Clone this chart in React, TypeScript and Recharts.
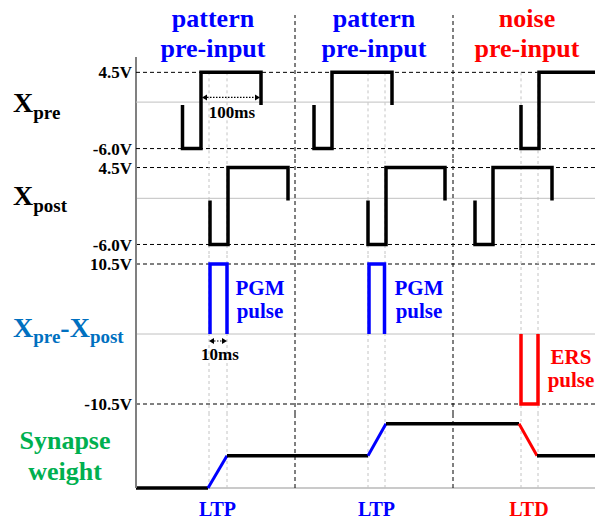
import { LineChart, Line, XAxis, YAxis, ReferenceLine } from 'recharts'

const W = 595
const AXIS_W = 136
const T_DOMAIN: [number, number] = [0, 459]

const SERIF = '"Liberation Serif", "Times New Roman", serif'
const BLUE = '#0000ff'
const RED = '#ff0000'
const STEEL = '#0070c0'
const GREEN = '#00b050'

// time axis: section boundaries and the coincidence-window edges
const SECTION_BOUNDS = [159, 317]
const WINDOW_EDGES = [73, 91, 232, 249, 385, 402]

type Pt = [number, number]

// pre-synaptic spikes (V)
const XPRE_WAVES: Pt[][] = [
  [[46.5, 0], [46.5, -6], [65, -6], [65, 4.5], [125, 4.5], [125, 0]],
  [[178, 0], [178, -6], [196, -6], [196, 4.5], [256, 4.5], [256, 0]],
  [[385, 0], [385, -6], [403, -6], [403, 4.5], [459, 4.5]],
]

// post-synaptic spikes (V)
const XPOST_WAVES: Pt[][] = [
  [[74, 0], [74, -6], [92, -6], [92, 4.5], [152, 4.5], [152, 0]],
  [[232, 0], [232, -6], [250, -6], [250, 4.5], [309, 4.5], [309, 0]],
  [[339, 0], [339, -6], [357, -6], [357, 4.5], [416, 4.5], [416, 0]],
]

// net voltage across the synapse (V)
const DIFF_PGM: Pt[][] = [
  [[74, 0], [74, 10.5], [91, 10.5], [91, 0]],
  [[233, 0], [233, 10.5], [248.5, 10.5], [248.5, 0]],
]
const DIFF_ERS: Pt[] = [[385, 0], [385, -10.5], [402, -10.5], [402, 0]]

// synapse weight (arbitrary levels)
const W_T = [0, 72, 91, 232, 250, 383, 401, 459]
const W_V = [0, 0, 1, 1, 2, 2, 1, 1]
const W_KIND = ['hold', 'LTP', 'hold', 'LTP', 'hold', 'LTD', 'hold']

const PRE_TICKS = [4.5, -6]
const POST_TICKS = [4.5, -6]
const DIFF_TICKS = [10.5, -10.5]

const OUTCOMES = ['LTP', 'LTP', 'LTD']
const OUTCOME_T = [81.5, 240.5, 393]

const toRows = (pts: Pt[]) => pts.map(([t, v]) => ({ t, v }))
const kindColor = (k: string) => (k === 'LTP' ? BLUE : k === 'LTD' ? RED : '#000')
const volt = (v: number) => `${v.toFixed(1)}V`

const margin = { top: 0, right: 0, bottom: 0, left: 0 }

const weightSegments = W_KIND.map((kind, i) => ({
  kind,
  rows: [
    { t: W_T[i], v: W_V[i] },
    { t: W_T[i + 1], v: W_V[i + 1] },
  ],
}))

// dimension marker with outward arrowheads
const DimArrow = (props: any) => {
  const { x1, y1, x2 } = props
  const a = 5
  return (
    <g>
      <line x1={x1 + a} y1={y1} x2={x2 - a} y2={y1} stroke="#000" strokeWidth={1.2} strokeDasharray="1.5 1.5" />
      <polygon points={`${x1},${y1} ${x1 + a},${y1 - 3} ${x1 + a},${y1 + 3}`} fill="#000" />
      <polygon points={`${x2},${y1} ${x2 - a},${y1 - 3} ${x2 - a},${y1 + 3}`} fill="#000" />
    </g>
  )
}

const VoltTick = ({ y, payload }: any) => (
  <text x={AXIS_W - 4} y={y} dy="0.36em" textAnchor="end" fill="#000" fontSize={17} fontWeight={700} fontFamily={SERIF}>
    {volt(payload.value)}
  </text>
)

const OutcomeTick = ({ x, y, index }: any) => (
  <text
    x={x}
    y={y + 28}
    textAnchor="middle"
    fill={kindColor(OUTCOMES[index])}
    fontSize={20}
    fontWeight={700}
    fontFamily={SERIF}
  >
    {OUTCOMES[index]}
  </text>
)

const dashed = { stroke: '#000', strokeWidth: 1, strokeDasharray: '4 3' }
const guide = { stroke: '#c4c4c4', strokeWidth: 1, strokeDasharray: '3 3' }
const zero = { stroke: '#c0c0c0', strokeWidth: 1 }

export default function App() {
  const sectionLines = SECTION_BOUNDS.map((t) => <ReferenceLine key={`s${t}`} x={t} {...dashed} />)
  const windowLines = WINDOW_EDGES.map((t) => <ReferenceLine key={`w${t}`} x={t} {...guide} />)

  return (
    <div style={{ position: 'absolute', left: 0, top: 0, width: W, height: 523, background: '#fff' }}>
      {/* Xpre panel (extends up so the section dividers reach the titles) */}
      <div style={{ position: 'absolute', left: 0, top: 15 }}>
        <LineChart width={W} height={143} margin={margin}>
          <XAxis type="number" dataKey="t" domain={T_DOMAIN} hide />
          <YAxis
            type="number"
            domain={[-7.3, 12.4]}
            ticks={PRE_TICKS}
            interval={0}
            width={AXIS_W}
            axisLine={false}
            tickLine={false}
            tick={<VoltTick />}
          />
          <ReferenceLine segment={[{ x: 0, y: 6.6 }, { x: 0, y: -7.3 }]} stroke="#808080" strokeWidth={2} />
          <ReferenceLine y={4.5} {...dashed} />
          <ReferenceLine y={-6} {...dashed} />
          <ReferenceLine y={0.4} {...zero} />
          {WINDOW_EDGES.map((t) => (
            <ReferenceLine key={`w${t}`} segment={[{ x: t, y: 4.5 }, { x: t, y: -7.3 }]} {...guide} />
          ))}
          {sectionLines}
          <ReferenceLine segment={[{ x: 66, y: 1.05 }, { x: 124, y: 1.05 }]} shape={DimArrow} />
          {XPRE_WAVES.map((w, i) => (
            <Line
              key={i}
              data={toRows(w)}
              dataKey="v"
              type="linear"
              stroke="#000"
              strokeWidth={3.5}
              dot={false}
              isAnimationActive={false}
            />
          ))}
        </LineChart>
      </div>

      {/* Xpost panel */}
      <div style={{ position: 'absolute', left: 0, top: 158 }}>
        <LineChart width={W} height={96} margin={margin}>
          <XAxis type="number" dataKey="t" domain={T_DOMAIN} hide />
          <YAxis
            type="number"
            domain={[-7.3, 5.8]}
            ticks={POST_TICKS}
            interval={0}
            width={AXIS_W}
            axisLine={{ stroke: '#808080', strokeWidth: 2 }}
            tickLine={false}
            tick={<VoltTick />}
          />
          <ReferenceLine y={4.5} {...dashed} />
          <ReferenceLine y={-6} {...dashed} />
          <ReferenceLine y={0.3} {...zero} />
          {windowLines}
          {sectionLines}
          {XPOST_WAVES.map((w, i) => (
            <Line
              key={i}
              data={toRows(w)}
              dataKey="v"
              type="linear"
              stroke="#000"
              strokeWidth={3.5}
              dot={false}
              isAnimationActive={false}
            />
          ))}
        </LineChart>
      </div>

      {/* Xpre - Xpost panel */}
      <div style={{ position: 'absolute', left: 0, top: 254 }}>
        <LineChart width={W} height={160} margin={margin}>
          <XAxis type="number" dataKey="t" domain={T_DOMAIN} hide />
          <YAxis
            type="number"
            domain={[-12, 12]}
            ticks={DIFF_TICKS}
            interval={0}
            width={AXIS_W}
            axisLine={{ stroke: '#808080', strokeWidth: 2 }}
            tickLine={false}
            tick={<VoltTick />}
          />
          <ReferenceLine y={10.5} {...dashed} />
          <ReferenceLine y={-10.5} {...dashed} />
          <ReferenceLine y={0} {...zero} />
          {windowLines}
          {sectionLines}
          <ReferenceLine segment={[{ x: 73, y: -1.05 }, { x: 91, y: -1.05 }]} shape={DimArrow} />
          {DIFF_PGM.map((w, i) => (
            <Line
              key={i}
              data={toRows(w)}
              dataKey="v"
              type="linear"
              stroke={BLUE}
              strokeWidth={3.5}
              dot={false}
              isAnimationActive={false}
            />
          ))}
          <Line
            data={toRows(DIFF_ERS)}
            dataKey="v"
            type="linear"
            stroke={RED}
            strokeWidth={3.5}
            dot={false}
            isAnimationActive={false}
          />
        </LineChart>
      </div>

      {/* synapse weight panel */}
      <div style={{ position: 'absolute', left: 0, top: 414 }}>
        <LineChart width={W} height={109} margin={margin}>
          <XAxis
            type="number"
            dataKey="t"
            domain={T_DOMAIN}
            ticks={OUTCOME_T}
            interval={0}
            height={35}
            axisLine={false}
            tickLine={false}
            tickSize={0}
            tickMargin={0}
            tick={<OutcomeTick />}
          />
          <YAxis
            type="number"
            domain={[0, 2.3]}
            ticks={[]}
            width={AXIS_W}
            axisLine={{ stroke: '#808080', strokeWidth: 2 }}
            tickLine={false}
          />
          <ReferenceLine y={0} stroke="#b8b8b8" strokeWidth={1.5} />
          {windowLines}
          {sectionLines}
          {weightSegments.map((s, i) => (
            <Line
              key={i}
              data={s.rows}
              dataKey="v"
              type="linear"
              stroke={kindColor(s.kind)}
              strokeWidth={s.kind === 'hold' ? 3.5 : 3}
              dot={false}
              isAnimationActive={false}
            />
          ))}
        </LineChart>
      </div>

      {/* labels */}
      <svg
        width={W}
        height={523}
        style={{ position: 'absolute', left: 0, top: 0, pointerEvents: 'none' }}
        fontFamily={SERIF}
        fontWeight={700}
      >
        <g fontSize={26} textAnchor="middle">
          <text x={213} y={27} fill={BLUE}>pattern</text>
          <text x={213} y={57} fill={BLUE}>pre-input</text>
          <text x={374} y={27} fill={BLUE}>pattern</text>
          <text x={374} y={57} fill={BLUE}>pre-input</text>
          <text x={527} y={27} fill={RED}>noise</text>
          <text x={527} y={57} fill={RED}>pre-input</text>
        </g>

        <text x={13} y={112} fontSize={28} fill="#000">
          X<tspan fontSize={19} dy={7}>pre</tspan>
        </text>
        <text x={13} y={205} fontSize={28} fill="#000">
          X<tspan fontSize={19} dy={7}>post</tspan>
        </text>
        <text x={13} y={337} fontSize={28} fill={STEEL}>
          X<tspan fontSize={19} dy={6}>pre</tspan>
          <tspan dy={-6}>-X</tspan>
          <tspan fontSize={19} dy={6}>post</tspan>
        </text>
        <g fontSize={26} fill={GREEN} textAnchor="middle">
          <text x={65} y={449}>Synapse</text>
          <text x={65} y={480}>weight</text>
        </g>

        <g fontSize={17} fill="#000" textAnchor="middle">
          <text x={232} y={118}>100ms</text>
          <text x={220} y={360}>10ms</text>
        </g>

        <g fontSize={21} textAnchor="middle">
          <text x={260} y={295} fill={BLUE}>PGM</text>
          <text x={260} y={318} fill={BLUE}>pulse</text>
          <text x={419} y={295} fill={BLUE}>PGM</text>
          <text x={419} y={318} fill={BLUE}>pulse</text>
          <text x={571} y={364} fill={RED}>ERS</text>
          <text x={571} y={387} fill={RED}>pulse</text>
        </g>
      </svg>
    </div>
  )
}
